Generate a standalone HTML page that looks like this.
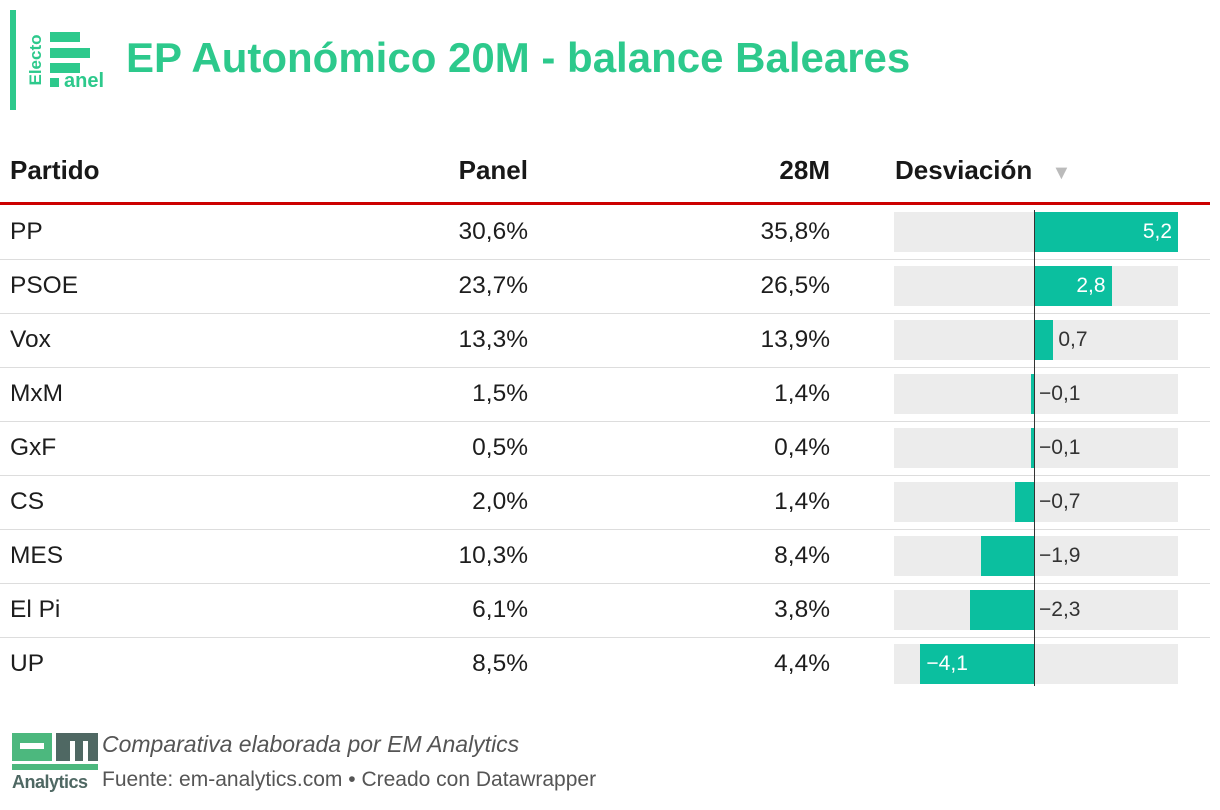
<!DOCTYPE html>
<html><head><meta charset="utf-8"><style>
body{margin:0;width:1220px;height:810px;background:#fff;font-family:"Liberation Sans",sans-serif;position:relative;overflow:hidden;color:#1d1d1d}
.abs{position:absolute}
.hdr{position:absolute;top:155px;font-weight:bold;font-size:26px;color:#181818}
.cell{position:absolute;font-size:24.5px;line-height:54px;color:#1d1d1d}
.sep{position:absolute;left:0;width:1210px;height:1px;background:#ddd}
</style></head><body>
<div class="abs" style="left:10px;top:10px;width:6px;height:100px;background:#2dc98c"></div>
<div class="abs" style="left:28px;top:30px;width:80px;height:62px">
  <div class="abs" style="left:22px;top:2px;width:30px;height:10px;background:#2dc98c"></div>
  <div class="abs" style="left:22px;top:18px;width:40px;height:10px;background:#2dc98c"></div>
  <div class="abs" style="left:22px;top:33px;width:30px;height:10px;background:#2dc98c"></div>
  <div class="abs" style="left:22px;top:48px;width:9px;height:9px;background:#2dc98c"></div>
  <div class="abs" style="left:36px;top:40px;font-size:20px;font-weight:bold;color:#2dc98c">anel</div>
  <div class="abs" style="left:-22px;top:20px;font-size:17px;font-weight:bold;color:#2dc98c;transform:rotate(-90deg);transform-origin:center;width:60px;text-align:center">Electo</div>
</div>
<div class="abs" style="left:126px;top:34px;font-size:42px;font-weight:bold;color:#2dc98c">EP Autonómico 20M - balance Baleares</div>

<div class="hdr" style="left:10px">Partido</div>
<div class="hdr" style="right:692px">Panel</div>
<div class="hdr" style="right:390px">28M</div>
<div class="hdr" style="left:895px">Desviación <span style="color:#bbb;font-size:20px;margin-left:12px">▼</span></div>
<div class="abs" style="left:0;top:202px;width:1210px;height:3px;background:#c00"></div>
<div id="rows"></div>

<div class="abs" style="left:12px;top:733px;width:88px;height:60px">
  <div class="abs" style="left:0;top:0;width:40px;height:28px;background:#4cb87e"></div>
  <div class="abs" style="left:8px;top:10px;width:24px;height:6px;background:#fff"></div>
  <div class="abs" style="left:44px;top:0;width:42px;height:28px;background:#4f6863"></div>
  <div class="abs" style="left:58px;top:8px;width:5px;height:20px;background:#fff"></div>
  <div class="abs" style="left:71px;top:8px;width:5px;height:20px;background:#fff"></div>
  <div class="abs" style="left:0;top:31px;width:86px;height:6px;background:#4cb87e"></div>
  <div class="abs" style="left:0;top:39px;font-size:18px;font-weight:bold;color:#4f6863;letter-spacing:-0.5px">Analytics</div>
</div>
<div class="abs" style="left:102px;top:731px;font-size:23px;font-style:italic;color:#555">Comparativa elaborada por EM Analytics</div>
<div class="abs" style="left:102px;top:768px;font-size:21px;color:#555">Fuente: em-analytics.com • Creado con Datawrapper</div>

<script>
const parties=["PP","PSOE","Vox","MxM","GxF","CS","MES","El Pi","UP"];
const panel=["30,6%","23,7%","13,3%","1,5%","0,5%","2,0%","10,3%","6,1%","8,5%"];
const ref28=["35,8%","26,5%","13,9%","1,4%","0,4%","1,4%","8,4%","3,8%","4,4%"];
const dev=[5.2,2.8,0.7,-0.1,-0.1,-0.7,-1.9,-2.3,-4.1];
const X0=1034,PX=27.7,TOP=205,RH=54;
const x=v=>X0+v*PX;
const fmt=v=>(v<0?"−":"")+Math.abs(v).toFixed(1).replace(".",",");
const c=document.getElementById('rows');
function add(html,name){const d=document.createElement('div');d.innerHTML=html;const e=d.firstChild;


c.appendChild(e);return e;}
parties.forEach((p,i)=>{
  const t=TOP+i*RH;
  add(`<div class="cell" style="left:10px;top:${t}px">${p}</div>`,'party-label');
  add(`<div class="cell" style="right:692px;top:${t}px">${panel[i]}</div>`,'panel-value');
  add(`<div class="cell" style="right:390px;top:${t}px">${ref28[i]}</div>`,'28m-value');
  add(`<div class="abs" style="left:894px;top:${t+7}px;width:284px;height:40px;background:#ececec"></div>`,'bar-background');
  const v=dev[i],l=Math.min(x(0),x(v)),w=Math.abs(x(v)-x(0));
  add(`<div class="abs" style="left:${l}px;top:${t+7}px;width:${w}px;height:40px;background:#0bbf9f"></div>`,'deviation-bar');
  const inside=v>0?w>60:w>75;
  let lab;
  if(inside){lab=v>0?`right:${1220-x(v)+6}px`:`left:${x(v)+6}px`;}
  else lab=`left:${Math.max(x(0),x(v))+5}px`;
  add(`<div class="abs" style="${lab};top:${t+15}px;font-size:21px;color:${inside?'#fff':'#333'}">${fmt(v)}</div>`,'deviation-label');
  if(i>0) add(`<div class="sep" style="top:${t}px"></div>`,'row-separator');
});
add(`<div class="abs" style="left:${X0}px;top:${TOP+5}px;width:1px;height:${RH*9-10}px;background:#333"></div>`,'zero-line');
</script>
</body></html>
